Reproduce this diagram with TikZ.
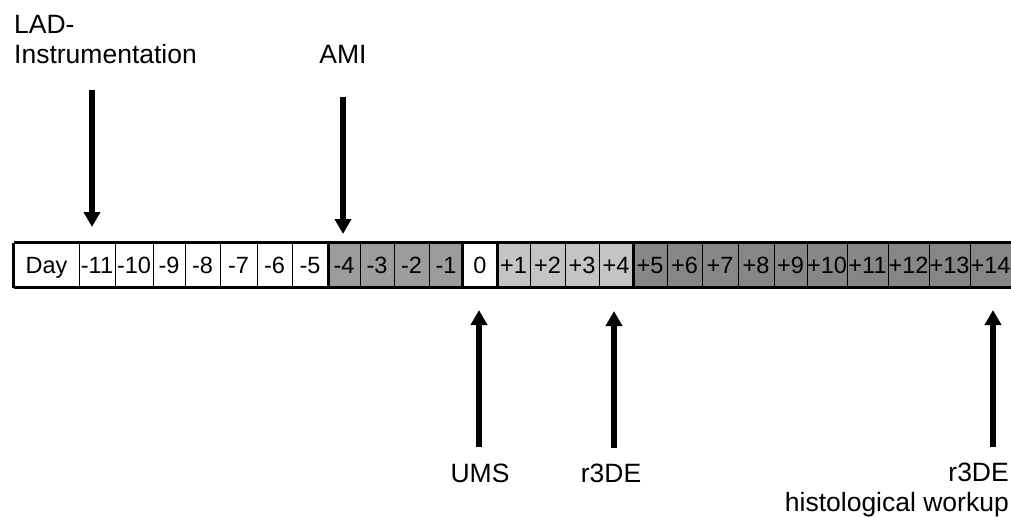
\documentclass[tikz,border=0pt]{standalone}
\usepackage{fontspec}
\setmainfont{Liberation Sans}
\usetikzlibrary{arrows.meta}
\definecolor{midgrey}{HTML}{9C9C9C}
\definecolor{lightgrey}{HTML}{C4C4C4}
\definecolor{darkgrey}{HTML}{868686}
\tikzset{
  cell/.style={draw=black, line width=1pt, inner sep=0pt, minimum height=44pt,
    font=\fontsize{23.5}{25}\selectfont, text height=16.8pt, text depth=0pt},
  lbl/.style={inner sep=0pt, font=\fontsize{26.5}{30}\selectfont},
  arr/.style={line width=6pt, -{Triangle[width=16pt,length=15pt]}},
}
\begin{document}
\begin{tikzpicture}[x=1pt,y=-1pt]
\useasboundingbox (0,0) rectangle (1011,517);
% cells
\foreach \l/\r/\t/\f [count=\i] in {
  14/79/Day/white, 79/115/-11/white, 115/153/-10/white, 153/185/-9/white,
  185/220/-8/white, 220/257/-7/white, 257/292/-6/white, 292/328/-5/white,
  328/360/-4/midgrey, 360/394/-3/midgrey, 394/429/-2/midgrey, 429/463/-1/midgrey,
  463/497/0/white,
  497/530/+1/lightgrey, 530/565/+2/lightgrey, 565/599/+3/lightgrey, 599/633/+4/lightgrey,
  633/667/+5/darkgrey, 667/702/+6/darkgrey, 702/738/+7/darkgrey, 738/774/+8/darkgrey,
  774/807/+9/darkgrey, 807/847/+10/darkgrey, 847/888/+11/darkgrey, 888/929/+12/darkgrey,
  929/970/+13/darkgrey, 970/1011/+14/darkgrey}
{
  \node[cell, fill=\f, minimum width={\r-\l}] (c\i) at ({(\l+\r)/2},265) {\t};
}
% thick group separators and outer frame
\draw[line width=3pt] (c8.north east) -- (c8.south east);
\draw[line width=3pt] (c17.north east) -- (c17.south east);
\draw[line width=3pt] (c13.north west) rectangle (c13.south east);
\draw[line width=3pt] (c1.north west) -- (c27.north east) -- ++(3,0)
  (c1.south west) -- (c27.south east) -- ++(3,0)
  (c1.north west) -- (c1.south west);
% labels
\node[lbl, align=left, anchor=base west] (lad) at (14,63) {LAD-\\Instrumentation};
\node[lbl, anchor=base] (ami) at (343,63) {AMI};
\node[lbl, anchor=base] (ums) at (480,482) {UMS};
\node[lbl, anchor=base] (r3a) at (611,482) {r3DE};
\node[lbl, align=right, anchor=base east] (r3b) at (1009,511) {r3DE\\histological workup};
% arrows
\coordinate (ladS) at (92,90);   \coordinate (ladE) at (92,227);
\coordinate (amiS) at (343,97);  \coordinate (amiE) at (343,234);
\coordinate (umsS) at (479,447); \coordinate (umsE) at (479,310);
\coordinate (r3aS) at (614,448); \coordinate (r3aE) at (614,311);
\coordinate (r3bS) at (993,447); \coordinate (r3bE) at (993,310);
\draw[arr] (ladS) -- (ladE);
\draw[arr] (amiS) -- (amiE);
\draw[arr] (umsS) -- (umsE);
\draw[arr] (r3aS) -- (r3aE);
\draw[arr] (r3bS) -- (r3bE);
\end{tikzpicture}
\end{document}
